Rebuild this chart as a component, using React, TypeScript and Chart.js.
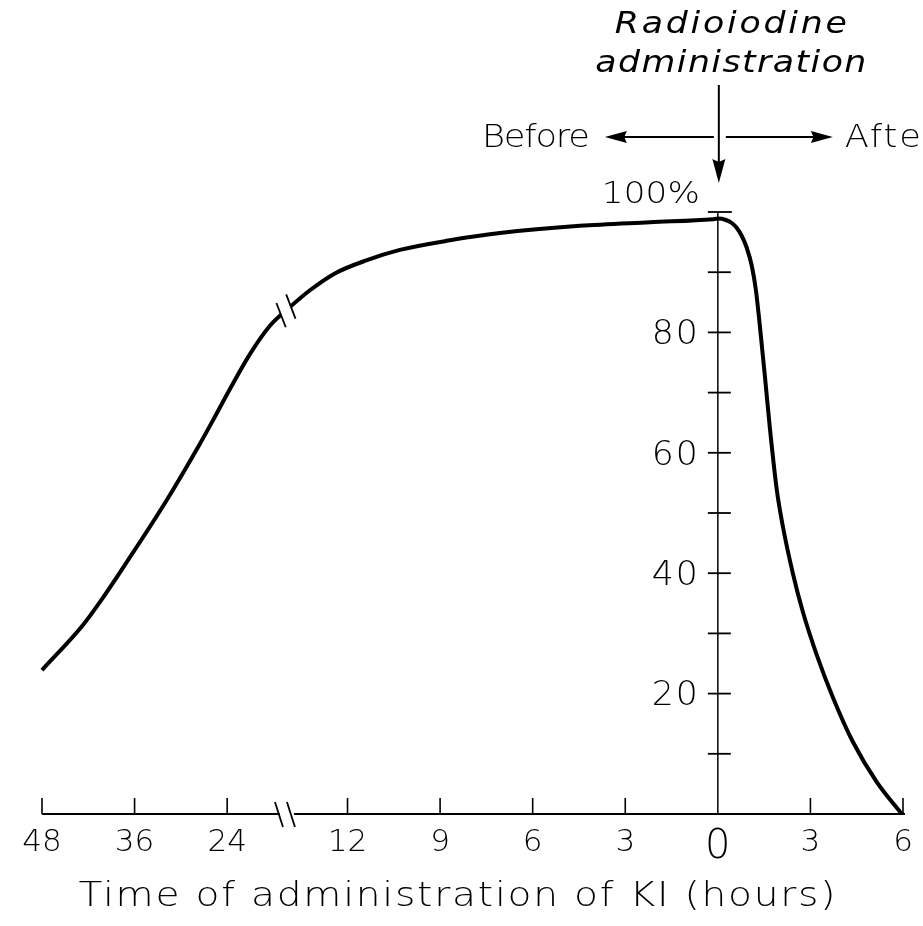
import React, { useEffect, useRef } from 'react';
import { Chart, registerables } from 'chart.js';
Chart.register(...registerables);

// x axis: positions along the (broken) axis and their labels (hours)
const xTickPositions = [0, 1, 2, 3.3, 4.3, 5.3, 6.3, 7.3, 8.3, 9.3];
const xTickLabels = ['48', '36', '24', '12', '9', '6', '3', '0', '3', '6'];
const xBreakPosition = 2.635;
const zeroPosition = 7.3;
const xMax = 9.3;

// y axis
const yLabelValues = [20, 40, 60, 80];
const yMarkValues = [10, 20, 30, 40, 50, 60, 70, 80, 90];

// curve (axis position, percent)
const curvePositions = [0, 0.443, 0.648, 0.918, 1.35, 1.706, 1.868, 2.03, 2.246, 2.462, 2.678, 2.894, 3.164, 3.51, 3.866, 4.406, 4.946, 5.81, 6.566, 7.246, 7.3, 7.387, 7.451, 7.505, 7.559, 7.613, 7.667, 7.711, 7.754, 7.808, 7.862, 7.937, 8.002, 8.11, 8.218, 8.369, 8.542, 8.758, 9.017, 9.287];
const curveValues = [23.9, 31.4, 35.7, 41.9, 52.2, 61.5, 66.0, 70.6, 76.4, 81.1, 84.2, 87.0, 89.8, 92.0, 93.7, 95.3, 96.5, 97.7, 98.3, 98.8, 98.9, 98.67, 98.17, 97.34, 96.01, 94.02, 91.03, 87.04, 81.06, 72.76, 64.12, 53.82, 47.8, 40.0, 33.6, 26.4, 19.4, 12.0, 5.3, 0];

const FAMILY = "'DejaVu Sans', sans-serif";

function spacedText(ctx: CanvasRenderingContext2D, text: string, x: number, y: number, font: string, width: number | null, align: 'left' | 'center' | 'right', spacing = 0, stretch = 1) {
  ctx.save();
  ctx.font = font;
  (ctx as any).letterSpacing = '0px';
  const natural = ctx.measureText(text).width * stretch;
  let sp = spacing;
  let w = natural + sp * (text.length - 1);
  if (width != null) {
    sp = text.length > 1 ? (width - natural) / (text.length - 1) : 0;
    w = width;
  }
  (ctx as any).letterSpacing = sp / stretch + 'px';
  const left = align === 'center' ? x - w / 2 : align === 'right' ? x - w : x;
  ctx.textAlign = 'left';
  ctx.textBaseline = 'alphabetic';
  ctx.fillStyle = '#000';
  ctx.translate(left, y);
  ctx.scale(stretch, 1);
  ctx.fillText(text, 0, 0);
  ctx.restore();
}

function arrow(ctx: CanvasRenderingContext2D, x1: number, y1: number, x2: number, y2: number, head: number, half: number) {
  const dx = x2 - x1, dy = y2 - y1;
  const len = Math.hypot(dx, dy);
  const ux = dx / len, uy = dy / len;
  ctx.beginPath();
  ctx.moveTo(x1, y1);
  ctx.lineTo(x2 - ux * head * 0.8, y2 - uy * head * 0.8);
  ctx.stroke();
  ctx.beginPath();
  ctx.moveTo(x2, y2);
  ctx.lineTo(x2 - ux * head - uy * half, y2 - uy * head + ux * half);
  ctx.lineTo(x2 - ux * head * 0.88, y2 - uy * head * 0.88);
  ctx.lineTo(x2 - ux * head + uy * half, y2 - uy * head - ux * half);
  ctx.closePath();
  ctx.fill();
}

function interp(pos: number) {
  for (let i = 0; i < curvePositions.length - 1; i++) {
    if (pos >= curvePositions[i] && pos <= curvePositions[i + 1]) {
      const t = (pos - curvePositions[i]) / (curvePositions[i + 1] - curvePositions[i]);
      return curveValues[i] + t * (curveValues[i + 1] - curveValues[i]);
    }
  }
  return curveValues[0];
}

const decorPlugin = {
  id: 'decor',
  beforeDraw(chart: any) {
    const ctx = chart.ctx;
    ctx.save();
    ctx.fillStyle = '#fff';
    ctx.fillRect(0, 0, chart.width, chart.height);
    ctx.restore();
  },
  beforeDatasetsDraw(chart: any) {
    const ctx: CanvasRenderingContext2D = chart.ctx;
    const xs = chart.scales.x, ys = chart.scales.y;
    const y0 = ys.getPixelForValue(0);
    const yTop = ys.getPixelForValue(100);
    const xb = xs.getPixelForValue(xBreakPosition);
    const xz = xs.getPixelForValue(zeroPosition);
    ctx.save();
    ctx.strokeStyle = '#000';
    ctx.fillStyle = '#000';
    ctx.lineCap = 'butt';
    // x axis with break
    ctx.lineWidth = 2;
    ctx.beginPath();
    ctx.moveTo(xs.getPixelForValue(0), y0);
    ctx.lineTo(xb - 6, y0);
    ctx.moveTo(xb + 8, y0);
    ctx.lineTo(xs.getPixelForValue(xMax) + 2, y0);
    ctx.stroke();
    ctx.lineWidth = 1.8;
    for (const off of [-7, 5]) {
      ctx.beginPath();
      ctx.moveTo(xb + off - 4, y0 - 12);
      ctx.lineTo(xb + off + 4, y0 + 13);
      ctx.stroke();
    }
    // x ticks
    ctx.lineWidth = 1.6;
    for (const p of xTickPositions) {
      if (p === zeroPosition) continue;
      const px = xs.getPixelForValue(p);
      ctx.beginPath();
      ctx.moveTo(px, y0);
      ctx.lineTo(px, y0 - 16);
      ctx.stroke();
    }
    // y axis
    ctx.lineWidth = 1.5;
    ctx.beginPath();
    ctx.moveTo(xz, yTop);
    ctx.lineTo(xz, y0);
    ctx.stroke();
    ctx.lineWidth = 1.8;
    for (const v of yMarkValues) {
      const py = ys.getPixelForValue(v);
      ctx.beginPath();
      ctx.moveTo(xz - 10, py);
      ctx.lineTo(xz + 13, py);
      ctx.stroke();
    }
    ctx.beginPath();
    ctx.moveTo(xz - 10, yTop);
    ctx.lineTo(xz + 14, yTop);
    ctx.stroke();
    // y tick labels
    const ySize = 33;
    for (const v of yLabelValues) {
      const py = ys.getPixelForValue(v);
      spacedText(ctx, String(v), xz - 20, py + ySize * 0.36, `300 ${ySize}px ${FAMILY}`, null, 'right', 2, 1.05);
    }
    ctx.restore();
  },
  afterDatasetsDraw(chart: any) {
    const ctx: CanvasRenderingContext2D = chart.ctx;
    const xs = chart.scales.x, ys = chart.scales.y;
    const yTop = ys.getPixelForValue(100);
    const xz = xs.getPixelForValue(zeroPosition);
    ctx.save();
    ctx.strokeStyle = '#000';
    ctx.fillStyle = '#000';

    // curve break marks
    const bx = xs.getPixelForValue(xBreakPosition);
    const by = ys.getPixelForValue(interp(xBreakPosition));
    const bx2 = xs.getPixelForValue(xBreakPosition + 0.1);
    const by2 = ys.getPixelForValue(interp(xBreakPosition + 0.1));
    const tl = Math.hypot(bx2 - bx, by2 - by);
    const tx = (bx2 - bx) / tl, ty = (by2 - by) / tl;
    const sl = Math.hypot(10, 26);
    const sx = 10 / sl, sy = 26 / sl;
    const c1 = [bx - tx * 6.5, by - ty * 6.5];
    const c2 = [bx + tx * 6.5, by + ty * 6.5];
    ctx.fillStyle = '#fff';
    ctx.beginPath();
    ctx.moveTo(c1[0] - sx * 6, c1[1] - sy * 6);
    ctx.lineTo(c2[0] - sx * 6, c2[1] - sy * 6);
    ctx.lineTo(c2[0] + sx * 6, c2[1] + sy * 6);
    ctx.lineTo(c1[0] + sx * 6, c1[1] + sy * 6);
    ctx.closePath();
    ctx.fill();
    ctx.fillStyle = '#000';
    ctx.lineWidth = 1.8;
    for (const c of [c1, c2]) {
      ctx.beginPath();
      ctx.moveTo(c[0] - sx * 13, c[1] - sy * 13);
      ctx.lineTo(c[0] + sx * 13, c[1] + sy * 13);
      ctx.stroke();
    }

    // 100% label
    spacedText(ctx, '100%', xz - 18, yTop - 9, `300 31px ${FAMILY}`, 98, 'right', 0, 1.1);

    // x axis title
    spacedText(ctx, 'Time of administration of KI (hours)', 457, 906, `300 34px ${FAMILY}`, 757, 'center', 0, 1.15);

    // top annotation
    spacedText(ctx, 'Radioiodine', xz + 13, 33, `italic 300 31px ${FAMILY}`, 232, 'center', 0, 1.12);
    spacedText(ctx, 'administration', xz + 13, 72, `italic 300 31px ${FAMILY}`, 271, 'center', 0, 1.12);
    ctx.lineWidth = 2;
    arrow(ctx, xz + 1, 85, xz + 1, 183, 24, 6.5);
    arrow(ctx, xz - 4, 137, xz - 113, 137, 22, 6);
    arrow(ctx, xz + 8, 137, xz + 115, 137, 22, 6);
    spacedText(ctx, 'Before', 590, 147, `300 32px ${FAMILY}`, 108, 'right', 0, 1.1);
    spacedText(ctx, 'After', xz + 127, 147, `300 32px ${FAMILY}`, null, 'left', 2, 1.1);
    ctx.restore();
  },
};

export default function App() {
  const ref = useRef<HTMLCanvasElement | null>(null);
  useEffect(() => {
    if (!ref.current) return;
    const data = curvePositions.map((p, i) => ({ x: p, y: curveValues[i] }));
    const chart = new Chart(ref.current, {
      type: 'line',
      data: {
        datasets: [
          {
            data,
            borderColor: '#000',
            borderWidth: 4,
            pointRadius: 0,
            fill: false,
            cubicInterpolationMode: 'monotone',
            clip: false as any,
          },
        ],
      },
      options: {
        animation: false,
        responsive: true,
        maintainAspectRatio: false,
        layout: { padding: { left: 42, right: 20, top: 212, bottom: 0 } },
        plugins: { legend: { display: false }, tooltip: { enabled: false }, title: { display: false } },
        scales: {
          x: {
            type: 'linear',
            min: 0,
            max: xMax,
            position: 'bottom',
            grid: { display: false },
            border: { display: false },
            afterBuildTicks: (scale: any) => {
              scale.ticks = xTickPositions.map((v) => ({ value: v }));
            },
            afterFit: (scale: any) => {
              scale.height = 112;
            },
            ticks: {
              autoSkip: false,
              maxRotation: 0,
              minRotation: 0,
              padding: 2,
              color: '#000',
              font: (c: any) => ({
                family: FAMILY,
                weight: '300',
                size: c.tick && c.tick.value === zeroPosition ? 40 : 31,
              }),
              callback: (v: any) => {
                const i = xTickPositions.indexOf(Number(v));
                return i >= 0 ? xTickLabels[i] : '';
              },
            },
          },
          y: {
            type: 'linear',
            min: 0,
            max: 100,
            display: false,
            position: { x: zeroPosition } as any,
          },
        },
      },
      plugins: [decorPlugin],
    });
    return () => chart.destroy();
  }, []);
  return (
    <div style={{ position: 'fixed', left: 0, top: 0, width: 923, height: 926 }}>
      <canvas ref={ref} />
    </div>
  );
}
